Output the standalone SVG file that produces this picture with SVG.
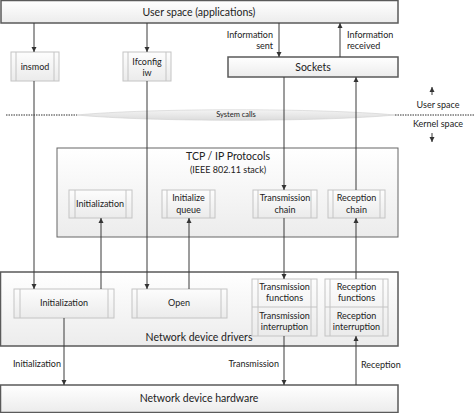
<svg xmlns="http://www.w3.org/2000/svg" width="474" height="413" viewBox="0 0 474 413">
<defs>
<linearGradient id="gOuter" x1="0" y1="0" x2="0" y2="1">
<stop offset="0" stop-color="#ffffff"/>
<stop offset="1" stop-color="#ececec"/>
</linearGradient>
<linearGradient id="gInner" x1="0" y1="0" x2="0" y2="1">
<stop offset="0" stop-color="#fdfdfd"/>
<stop offset="1" stop-color="#ebebeb"/>
</linearGradient>
<linearGradient id="gLens" x1="0" y1="0" x2="0" y2="1">
<stop offset="0" stop-color="#f4f4f4"/>
<stop offset="1" stop-color="#dcdcdc"/>
</linearGradient>
<marker id="arr" markerUnits="userSpaceOnUse" markerWidth="6" markerHeight="6" refX="5" refY="3" orient="auto">
<path d="M0,0.5 L5,3 L0,5.5 z" fill="#333"/>
</marker>
</defs>
<style>
text{font-family:Lato,"Liberation Sans",sans-serif;fill:#222;}
.big{font-size:10.5px;}
.mid{font-size:9px;}
.sm{font-size:7.5px;}
.c{text-anchor:middle;}
.r{text-anchor:end;}
.outer{fill:url(#gOuter);stroke:#5a5a5a;stroke-width:1.5;}
.group{fill:url(#gOuter);stroke:#666;stroke-width:1;}
.pp{fill:url(#gInner);stroke:#c4c4c4;stroke-width:1;}
.ppl{stroke:#c4c4c4;stroke-width:1;fill:none;}
.con{stroke:#3a3a3a;stroke-width:1;fill:none;}
.arr{marker-end:url(#arr);}
.dot{stroke:#333;stroke-width:1;stroke-dasharray:1.5 1;fill:none;}
</style>
<rect width="474" height="413" fill="#ffffff"/>

<g id="user-space">
<rect class="outer" x="1" y="0.5" width="397" height="22.5"/>
<text class="big c" x="199" y="16">User space (applications)</text>
</g>

<g id="sockets">
<rect class="outer" x="228" y="57" width="170" height="20"/>
<text class="big c" x="313" y="71">Sockets</text>
</g>

<g id="insmod">
<rect class="pp" x="11" y="52" width="48" height="29"/>
<path class="ppl" d="M16,52 V81 M54,52 V81"/>
<text class="mid c" x="35" y="70">insmod</text>
</g>

<g id="ifconfig">
<rect class="pp" x="123" y="52" width="48" height="29"/>
<path class="ppl" d="M128,52 V81 M166,52 V81"/>
<text class="mid c" x="147" y="65">Ifconfig</text>
<text class="mid c" x="147" y="76">iw</text>
</g>

<g id="system-calls">
<path class="dot" d="M6,115 H77 M395,115 H474"/>
<path d="M77,115 C150,108 320,108 395,115 C320,122 150,122 77,115 Z" fill="url(#gLens)" stroke="#cfcfcf" stroke-width="0.6"/>
<text class="sm c" x="236" y="117">System calls</text>
</g>

<g id="space-labels">
<text class="mid c" x="438" y="108">User space</text>
<text class="mid c" x="438" y="127">Kernel space</text>
</g>

<g id="tcpip">
<rect class="group" x="57" y="148" width="341" height="89"/>
<text class="big c" x="228" y="160">TCP / IP Protocols</text>
<text class="mid c" x="228" y="173">(IEEE 802.11 stack)</text>
</g>

<g id="tcp-initialization">
<rect class="pp" x="69" y="190" width="63" height="28"/>
<path class="ppl" d="M75,190 V218 M126,190 V218"/>
<text class="mid c" x="100" y="207">Initialization</text>
</g>

<g id="initialize-queue">
<rect class="pp" x="162" y="190" width="53" height="28"/>
<path class="ppl" d="M167,190 V218 M210,190 V218"/>
<text class="mid c" x="188.5" y="201">Initialize</text>
<text class="mid c" x="188.5" y="213">queue</text>
</g>

<g id="transmission-chain">
<rect class="pp" x="253" y="190" width="64" height="28"/>
<path class="ppl" d="M258,190 V218 M311,190 V218"/>
<text class="mid c" x="285" y="201">Transmission</text>
<text class="mid c" x="285" y="213">chain</text>
</g>

<g id="reception-chain">
<rect class="pp" x="328" y="190" width="57" height="28"/>
<path class="ppl" d="M333,190 V218 M380,190 V218"/>
<text class="mid c" x="356.5" y="201">Reception</text>
<text class="mid c" x="356.5" y="213">chain</text>
</g>

<g id="drivers">
<rect class="outer" x="0.5" y="272" width="397.5" height="74"/>
<text class="big c" x="199" y="341">Network device drivers</text>
</g>

<g id="drv-initialization">
<rect class="pp" x="14" y="289" width="100" height="29"/>
<path class="ppl" d="M20,289 V318 M108,289 V318"/>
<text class="mid c" x="64" y="306">Initialization</text>
</g>

<g id="open">
<rect class="pp" x="132" y="289" width="95" height="29"/>
<path class="ppl" d="M137,289 V318 M221,289 V318"/>
<text class="mid c" x="179" y="306">Open</text>
</g>

<g id="transmission">
<rect class="pp" x="252" y="279" width="65" height="57"/>
<path class="ppl" d="M258,279 V336 M311,279 V336 M252,307 H317"/>
<text class="mid c" x="284.5" y="290">Transmission</text>
<text class="mid c" x="284.5" y="301">functions</text>
<text class="mid c" x="284.5" y="319">Transmission</text>
<text class="mid c" x="284.5" y="330">interruption</text>
</g>

<g id="reception">
<rect class="pp" x="325" y="279" width="63" height="57"/>
<path class="ppl" d="M330,279 V336 M383,279 V336 M325,307 H388"/>
<text class="mid c" x="356.5" y="290">Reception</text>
<text class="mid c" x="356.5" y="301">functions</text>
<text class="mid c" x="356.5" y="319">Reception</text>
<text class="mid c" x="356.5" y="330">interruption</text>
</g>

<g id="hardware">
<rect class="outer" x="0.5" y="385" width="397.5" height="27.5"/>
<text class="big c" x="199" y="402">Network device hardware</text>
</g>

<g id="connectors">
<path class="con arr" d="M34,23 V52"/>
<path class="con arr" d="M34,81 V289"/>
<path class="con arr" d="M147,23 V52"/>
<path class="con arr" d="M147,81 V289"/>
<path class="con arr" d="M279,23 V57"/>
<path class="con arr" d="M340,57 V23"/>
<path class="con arr" d="M284,77 V190"/>
<path class="con arr" d="M356,190 V77"/>
<path class="con arr" d="M101,289 V218"/>
<path class="con arr" d="M189,289 V218"/>
<path class="con arr" d="M284,218 V279"/>
<path class="con arr" d="M356,279 V218"/>
<path class="con arr" d="M64,318 V385"/>
<path class="con arr" d="M284,336 V385"/>
<path class="con arr" d="M356,385 V336"/>
<path class="con arr" d="M432,95 V87"/>
<path class="con arr" d="M432,133 V142"/>
</g>

<g id="connector-labels">
<text class="mid r" x="273" y="38">Information</text>
<text class="mid r" x="273" y="49">sent</text>
<text class="mid" x="347" y="38">Information</text>
<text class="mid" x="347" y="49">received</text>
<text class="mid r" x="61" y="367">Initialization</text>
<text class="mid r" x="279" y="367">Transmission</text>
<text class="mid" x="361" y="368">Reception</text>
</g>
</svg>
